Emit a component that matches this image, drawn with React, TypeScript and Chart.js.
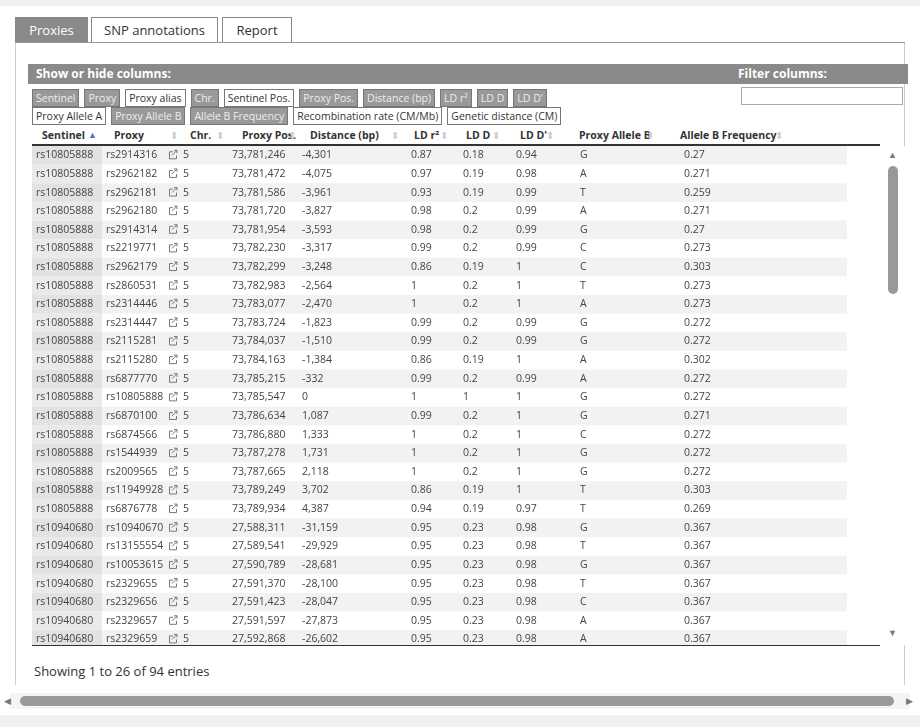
import { useEffect, useRef } from "react";
import { Chart, registerables } from "chart.js";

Chart.register(...registerables);

const sentinels = [
  ...Array(20).fill("rs10805888"),
  ...Array(7).fill("rs10940680"),
];
const proxies = [
  "rs2914316", "rs2962182", "rs2962181", "rs2962180", "rs2914314", "rs2219771", "rs2962179",
  "rs2860531", "rs2314446", "rs2314447", "rs2115281", "rs2115280", "rs6877770", "rs10805888",
  "rs6870100", "rs6874566", "rs1544939", "rs2009565", "rs11949928", "rs6876778", "rs10940670",
  "rs13155554", "rs10053615", "rs2329655", "rs2329656", "rs2329657", "rs2329659",
];
const chrs = proxies.map(() => "5");
const proxyPos = [
  "73,781,246", "73,781,472", "73,781,586", "73,781,720", "73,781,954", "73,782,230", "73,782,299",
  "73,782,983", "73,783,077", "73,783,724", "73,784,037", "73,784,163", "73,785,215", "73,785,547",
  "73,786,634", "73,786,880", "73,787,278", "73,787,665", "73,789,249", "73,789,934", "27,588,311",
  "27,589,541", "27,590,789", "27,591,370", "27,591,423", "27,591,597", "27,592,868",
];
const distances = [
  "-4,301", "-4,075", "-3,961", "-3,827", "-3,593", "-3,317", "-3,248", "-2,564", "-2,470", "-1,823",
  "-1,510", "-1,384", "-332", "0", "1,087", "1,333", "1,731", "2,118", "3,702", "4,387", "-31,159",
  "-29,929", "-28,681", "-28,100", "-28,047", "-27,873", "-26,602",
];
const ldR2 = [
  "0.87", "0.97", "0.93", "0.98", "0.98", "0.99", "0.86", "1", "1", "0.99", "0.99", "0.86", "0.99", "1",
  "0.99", "1", "1", "1", "0.86", "0.94", "0.95", "0.95", "0.95", "0.95", "0.95", "0.95", "0.95",
];
const ldD = [
  "0.18", "0.19", "0.19", "0.2", "0.2", "0.2", "0.19", "0.2", "0.2", "0.2", "0.2", "0.19", "0.2", "1",
  "0.2", "0.2", "0.2", "0.2", "0.19", "0.19", "0.23", "0.23", "0.23", "0.23", "0.23", "0.23", "0.23",
];
const ldDPrime = [
  "0.94", "0.98", "0.99", "0.99", "0.99", "0.99", "1", "1", "1", "0.99", "0.99", "1", "0.99", "1",
  "1", "1", "1", "1", "1", "0.97", "0.98", "0.98", "0.98", "0.98", "0.98", "0.98", "0.98",
];
const alleleB = [
  "G", "A", "T", "A", "G", "C", "C", "T", "A", "G", "G", "A", "A", "G", "G", "C", "G", "G", "T", "T",
  "G", "T", "G", "T", "C", "A", "A",
];
const alleleBFreq = [
  "0.27", "0.271", "0.259", "0.271", "0.27", "0.273", "0.303", "0.273", "0.273", "0.272", "0.272",
  "0.302", "0.272", "0.272", "0.271", "0.272", "0.272", "0.272", "0.303", "0.269", "0.367", "0.367",
  "0.367", "0.367", "0.367", "0.367", "0.367",
];
const headers = ["Sentinel", "Proxy", "Chr.", "Proxy Pos.", "Distance (bp)", "LD r²", "LD D", "LD D'", "Proxy Allele B", "Allele B Frequency"];

const colLeft = [0, 70, 150, 200, 270, 335, 426, 479, 532, 643, 815];
const textX = [4, 74, 151, 200, 270, 379, 431, 484, 548, 652];
const font = "'Open Sans', sans-serif";
const visibleRows = 26.8;

function TableCanvas() {
  const canvasRef = useRef<HTMLCanvasElement>(null);
  const chartRef = useRef<Chart | null>(null);

  useEffect(() => {
    if (!canvasRef.current) return;
    chartRef.current?.destroy();
    const cols = [sentinels, proxies, chrs, proxyPos, distances, ldR2, ldD, ldDPrime, alleleB, alleleBFreq];
    const cellPlugin = {
      id: "cells",
      beforeDatasetsDraw(chart: Chart) {
        const { ctx } = chart;
        const x = chart.scales.x;
        const y = chart.scales.y;
        ctx.save();
        ctx.font = `10.5px ${font}`;
        ctx.textBaseline = "middle";
        proxies.forEach((_, r) => {
          const top = y.getPixelForValue(r);
          const bot = y.getPixelForValue(r + 1);
          if (r % 2 === 0) {
            ctx.fillStyle = "#f2f2f2";
            ctx.fillRect(x.getPixelForValue(colLeft[1]), top, x.getPixelForValue(colLeft[10]) - x.getPixelForValue(colLeft[1]), bot - top);
          }
          ctx.fillStyle = r % 2 === 0 ? "#e2e2e2" : "#eaeaea";
          ctx.fillRect(x.getPixelForValue(0), top, x.getPixelForValue(colLeft[1]) - x.getPixelForValue(0), bot - top);
          ctx.fillStyle = "#444";
          const mid = (top + bot) / 2;
          cols.forEach((c, ci) => ctx.fillText(c[r], x.getPixelForValue(textX[ci]), mid));
          const ix = x.getPixelForValue(137);
          ctx.strokeStyle = "#777";
          ctx.lineWidth = 1;
          ctx.beginPath();
          ctx.moveTo(ix + 4, mid - 3.5);
          ctx.lineTo(ix + 0.5, mid - 3.5);
          ctx.lineTo(ix + 0.5, mid + 3.5);
          ctx.lineTo(ix + 7.5, mid + 3.5);
          ctx.lineTo(ix + 7.5, mid);
          ctx.moveTo(ix + 3, mid);
          ctx.lineTo(ix + 8, mid - 5);
          ctx.moveTo(ix + 5, mid - 5);
          ctx.lineTo(ix + 8, mid - 5);
          ctx.lineTo(ix + 8, mid - 2);
          ctx.stroke();
        });
        ctx.restore();
      },
    };
    chartRef.current = new Chart(canvasRef.current, {
      type: "scatter",
      data: { datasets: [{ data: proxies.map((_, i) => ({ x: 0, y: i + 0.5 })), pointRadius: 0 }] },
      options: {
        animation: false,
        responsive: false,
        layout: { padding: 0 },
        plugins: { legend: { display: false }, tooltip: { enabled: false } },
        scales: {
          x: { type: "linear", min: 0, max: 848, display: false },
          y: { type: "linear", min: 0, max: visibleRows, reverse: true, display: false },
        },
      },
      plugins: [cellPlugin],
    });
    return () => chartRef.current?.destroy();
  }, []);

  return <canvas ref={canvasRef} width={848} height={499} style={{ display: "block" }} />;
}

const btnOn = { background: "#999", color: "#eee", border: "1px solid #777" };
const btnOff = { background: "#fff", color: "#333", border: "1px solid #777" };
const buttons1: [string, boolean][] = [
  ["Sentinel", true], ["Proxy", true], ["Proxy alias", false], ["Chr.", true], ["Sentinel Pos.", false],
  ["Proxy Pos.", true], ["Distance (bp)", true], ["LD r²", true], ["LD D", true], ["LD D'", true],
];
const buttons2: [string, boolean][] = [
  ["Proxy Allele A", false], ["Proxy Allele B", true], ["Allele B Frequency", true],
  ["Recombination rate (CM/Mb)", false], ["Genetic distance (CM)", false],
];

export default function App() {
  const abs = (l: number, t: number, w: number, h: number): React.CSSProperties => ({ position: "absolute", left: l, top: t, width: w, height: h });
  const headerText = [42, 114, 190, 242, 310, 414, 466, 520, 579, 680];
  const iconX = [88, 170, 216, 288, 391, 440, 492, 546, 646, 775];
  return (
    <div style={{ position: "absolute", left: 0, top: 0, width: 920, height: 727, background: "#fff", fontFamily: font, fontSize: 11, color: "#333", overflow: "hidden" }}>
      <div style={{ ...abs(0, 0, 920, 6), background: "#f0f0f0" }} />
      <div style={{ ...abs(15, 42, 890, 1), background: "#999" }} />
      {[["Proxies", 15, 73, true], ["SNP annotations", 91, 127, false], ["Report", 222, 70, false]].map(([t, l, w, on]) => (
        <div key={t as string} style={{ ...abs(l as number, 17, w as number, 25), boxSizing: "border-box", border: "1px solid #888", borderBottom: "none", background: on ? "#8a8a8a" : "#fff", color: on ? "#fff" : "#333", fontSize: 13, lineHeight: "24px", textAlign: "center" }}>{t as string}</div>
      ))}
      <div style={{ ...abs(15, 43, 1, 642), background: "#ccc" }} />
      <div style={{ ...abs(904, 43, 1, 642), background: "#ccc" }} />
      <div style={{ ...abs(28, 64, 880, 20), background: "#8a8a8a", color: "#fff", fontWeight: 700, fontSize: 12, lineHeight: "20px" }}>
        <span style={{ marginLeft: 8 }}>Show or hide columns:</span>
        <span style={{ position: "absolute", left: 710 }}>Filter columns:</span>
      </div>
      <div style={{ ...abs(741, 87, 162, 18), boxSizing: "border-box", border: "1px solid #aaa" }} />
      <div style={{ position: "absolute", left: 32, top: 89, display: "flex", gap: 5 }}>
        {buttons1.map(([t, on]) => <div key={t} style={{ ...(on ? btnOn : btnOff), padding: "0 3px", fontSize: 10.5, lineHeight: "16px" }}>{t}</div>)}
      </div>
      <div style={{ position: "absolute", left: 32, top: 107, display: "flex", gap: 5 }}>
        {buttons2.map(([t, on]) => <div key={t} style={{ ...(on ? btnOn : btnOff), padding: "0 3px", fontSize: 10.5, lineHeight: "16px" }}>{t}</div>)}
      </div>
      {headers.map((h, i) => (
        <div key={h} style={{ position: "absolute", left: headerText[i], top: 126, fontWeight: 700, fontSize: 10.5, lineHeight: "18px", whiteSpace: "nowrap" }}>{h}</div>
      ))}
      {iconX.map((x, i) => (
        <div key={i} style={{ position: "absolute", left: x, top: 126, lineHeight: "18px", color: i === 0 ? "#5b6bcf" : "#ccc", fontSize: i === 0 ? 9 : 10 }}>{i === 0 ? "▲" : "⬍"}</div>
      ))}
      <div style={{ ...abs(32, 144, 848, 2), background: "#333" }} />
      <div style={{ position: "absolute", left: 32, top: 146 }}><TableCanvas /></div>
      <div style={{ ...abs(32, 645, 848, 1), background: "#333" }} />
      <div style={{ ...abs(881, 146, 24, 499), background: "#fff" }} />
      <div style={{ position: "absolute", left: 888, top: 148, color: "#777", fontSize: 9 }}>▲</div>
      <div style={{ ...abs(888, 166, 10, 128), background: "#999", borderRadius: 5 }} />
      <div style={{ position: "absolute", left: 888, top: 626, color: "#777", fontSize: 9 }}>▼</div>
      <div style={{ position: "absolute", left: 34, top: 662, fontSize: 13 }}>Showing 1 to 26 of 94 entries</div>
      <div style={{ ...abs(10, 693, 900, 16), background: "#f4f4f4" }} />
      <div style={{ ...abs(20, 696, 874, 10), background: "#999", borderRadius: 5 }} />
      <div style={{ position: "absolute", left: 4, top: 694, color: "#777", fontSize: 9 }}>◀</div>
      <div style={{ position: "absolute", left: 906, top: 694, color: "#777", fontSize: 9 }}>▶</div>
      <div style={{ ...abs(0, 715, 920, 12), background: "#f0f0f0" }} />
    </div>
  );
}
